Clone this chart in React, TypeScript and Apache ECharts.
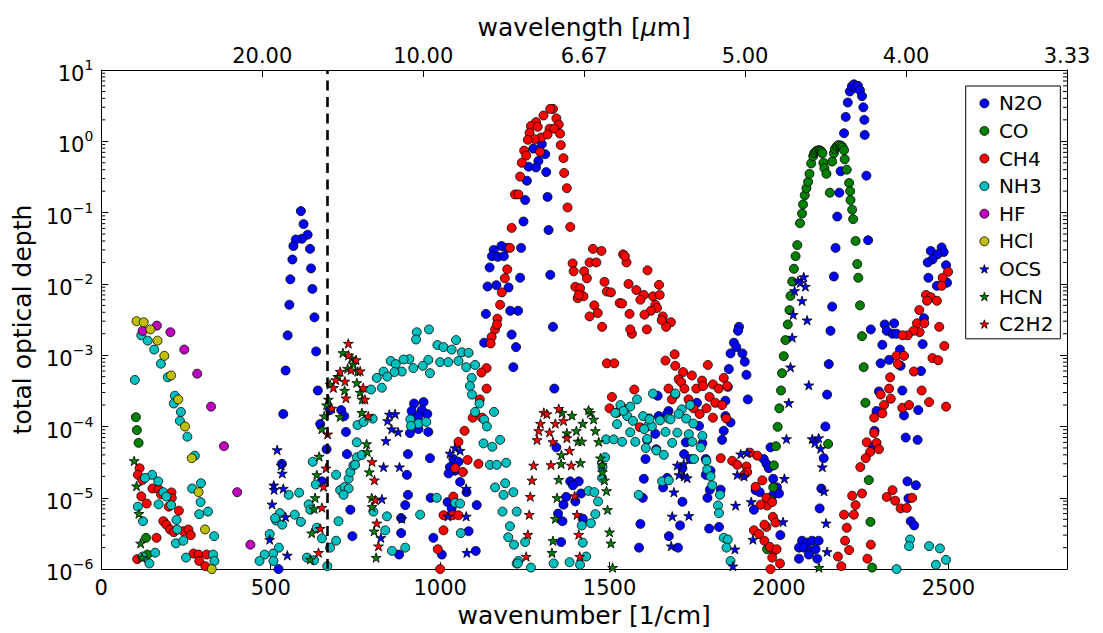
import React, { useEffect, useRef } from "react";
import * as echarts from "echarts";

type Pt = [number, number];

// [wavenumber (1/cm), total optical depth]
const N2O: Pt[] = [
  [555, 5.1e-3], [550, 1.9e-3], [544, 6.1e-4], [537, 1.5e-4], [533, 3.0e-5], [523, 1.0e-6],
  [589, 0.105], [597, 6.9e-2], [609, 4.9e-2], [592, 4.3e-2], [574, 4.2e-2], [567, 3.4e-2], [616, 3.1e-2],
  [564, 2.2e-2], [619, 1.65e-2], [558, 1.16e-2], [623, 8.5e-3], [629, 3.4e-3], [634, 1.13e-3], [639, 3.2e-4],
  [646, 1.08e-4], [651, 1.7e-5], [665, 4.8e-5], [675, 1.7e-4], [708, 1.7e-4], [717, 1.4e-4], [722, 8.4e-5],
  [725, 4.1e-5], [735, 6.8e-6], [741, 2.9e-6],
  [923, 2.1e-4], [951, 2.2e-4], [916, 1.65e-4], [946, 1.7e-4], [962, 1.5e-4], [936, 1.4e-4], [914, 1.26e-4],
  [936, 9.2e-5], [911, 8.1e-5], [965, 8.4e-5], [905, 4.1e-5], [970, 3.6e-5], [902, 2.1e-5], [905, 1.1e-5],
  [897, 7.9e-6], [885, 5.2e-6], [885, 3.2e-6], [879, 1.6e-6], [972, 1.0e-5], [980, 2.75e-6], [1005, 1.6e-6],
  [1108, 7.9e-6], [1084, 3.4e-6], [1105, 1.8e-6], [1039, 3.5e-5], [1054, 3.2e-5], [1029, 2.7e-5], [1044, 2.4e-5],
  [1025, 2.2e-5], [1059, 1.67e-5], [1078, 1.2e-5], [1022, 8.7e-6], [1034, 7.1e-6], [1211, 1.95e-3], [1224, 1.3e-3],
  [1216, 6.8e-4], [1130, 1.5e-3],
  [1300, 0.91], [1275, 0.79], [1310, 0.66], [1290, 0.53], [1261, 0.44], [1283, 0.43], [1313, 0.37], [1256, 0.28],
  [1317, 0.166], [1251, 0.15], [1246, 7.5e-2], [1320, 5.7e-2], [1239, 3.2e-2], [1158, 3.0e-2], [1181, 3.4e-2],
  [1197, 3.2e-2], [1153, 2.45e-2], [1170, 2.4e-2], [1188, 2.45e-2], [1146, 1.7e-2], [1236, 1.22e-2], [1325, 1.34e-2],
  [1140, 9.2e-3], [1166, 9.6e-3], [1202, 8.9e-3], [1207, 4.2e-3], [1230, 4.2e-3], [1135, 3.8e-3], [1333, 2.5e-3],
  [1337, 3.4e-4], [1343, 5.1e-5], [1384, 1.7e-5], [1409, 1.7e-5], [1392, 1.5e-5], [1372, 1.03e-5], [1416, 1.15e-5],
  [1399, 8.9e-6], [1364, 8.0e-6], [1348, 6.0e-6], [1361, 4.7e-6], [1421, 5.1e-6], [1357, 2.4e-6], [1601, 1.85e-5],
  [1598, 1.0e-5], [1591, 4.3e-6], [1587, 2.0e-6], [1606, 3.5e-5], [1642, 2.7e-4], [1645, 1.4e-4], [1611, 6.5e-5],
  [1635, 7.9e-5], [1638, 4.8e-5], [1674, 1.65e-4], [1758, 2.15e-4], [1842, 2.3e-4],
  [1882, 2.5e-3], [1879, 2.2e-3], [1867, 1.5e-3], [1874, 1.3e-3], [1857, 1.06e-3], [1892, 1.06e-3], [1899, 8.1e-4],
  [1852, 6.4e-4], [1904, 5.3e-4], [1849, 3.6e-4], [1908, 2.4e-4], [1842, 1.4e-4], [1837, 8.7e-5], [1857, 1.14e-4],
  [1832, 6.5e-5], [1774, 5.8e-5], [1764, 1.02e-4], [1725, 6.0e-5], [1720, 4.1e-5], [1739, 3.5e-5], [1784, 3.5e-5],
  [1715, 2.6e-5], [1784, 2.1e-5], [1798, 2.4e-5], [1796, 1.3e-5], [1828, 1.3e-5], [1789, 1.0e-5], [1823, 3.9e-6],
  [1794, 3.7e-6], [1715, 8.8e-6], [1708, 4.1e-6], [1675, 2.9e-6], [1702, 2.0e-6], [1670, 1.9e-5], [1658, 1.4e-5],
  [1670, 1.5e-4], [1617, 1.3e-4], [1955, 3.5e-5], [1963, 3.0e-5], [1970, 2.6e-5], [1983, 1.85e-5], [1994, 1.4e-5],
  [1931, 1.28e-5], [1943, 1.2e-5], [1926, 6.8e-6], [2004, 3.0e-6],
  [2192, 1.3], [2253, 1.23], [2182, 0.38], [2258, 0.33], [2178, 0.19], [2172, 8.8e-2], [2263, 4.1e-2], [2167, 3.2e-2],
  [2162, 1.27e-2], [2157, 4.8e-3], [2152, 2.2e-3], [2147, 7.5e-4], [2142, 2.8e-4], [2137, 1.0e-4], [2132, 3.6e-5],
  [2125, 1.35e-5], [2120, 7.1e-6], [2068, 2.5e-6], [2083, 2.35e-6], [2098, 2.5e-6], [2117, 2.5e-6], [2059, 2.0e-6],
  [2073, 2.0e-6], [2093, 1.8e-6], [2108, 1.9e-6], [2059, 1.4e-6], [2113, 1.4e-6], [2088, 1.6e-6], [1975, 5.1e-5],
  [1983, 1.1e-5], [2000, 1.15e-5],
  [2197, 2.2], [2203, 3.5], [2209, 5.0], [2215, 5.9], [2221, 6.3], [2227, 5.6], [2233, 6.0], [2239, 5.2],
  [2245, 4.3], [2249, 3.0], [2252, 2.0],
  [2448, 2.9e-2], [2480, 3.25e-2], [2486, 2.8e-2], [2468, 2.6e-2], [2453, 2.2e-2], [2439, 2.0e-2], [2493, 1.83e-2],
  [2441, 1.22e-2], [2496, 1.04e-2], [2466, 9.4e-3],
  [2312, 2.7e-3], [2340, 2.8e-3], [2318, 2.2e-3], [2335, 2.0e-3], [2347, 2.0e-3], [2271, 2.3e-3], [2428, 3.3e-3],
  [2305, 1.4e-3], [2424, 1.43e-3], [2357, 1.2e-3], [2300, 7.7e-4], [2325, 8.6e-4], [2359, 7.1e-4], [2419, 6.0e-4],
  [2295, 3.1e-4], [2364, 3.2e-4], [2288, 1.65e-4], [2369, 1.43e-4], [2411, 1.7e-4], [2282, 8.7e-5], [2279, 5.2e-5],
  [2374, 7.0e-5], [2409, 6.5e-5], [2379, 1.7e-5], [2404, 1.5e-5], [2389, 4.7e-6], [2399, 4.1e-6], [2382, 9.8e-6],
];

const CO: Pt[] = [
  [102, 1.35e-4], [105, 8.9e-5], [110, 5.9e-5], [132, 2.75e-6], [136, 1.6e-6],
  [2062, 7.1e-2], [2068, 9.7e-2], [2071, 0.13], [2076, 0.175], [2081, 0.22], [2086, 0.27], [2090, 0.35],
  [2095, 0.49], [2101, 0.62], [2104, 0.68], [2108, 0.71], [2112, 0.74], [2118, 0.75], [2122, 0.74], [2125, 0.72],
  [2128, 0.68], [2131, 0.5], [2134, 0.42], [2140, 0.35], [2150, 0.19], [2157, 0.52], [2162, 0.68], [2165, 0.78],
  [2170, 0.84], [2174, 0.88], [2180, 0.88], [2184, 0.86], [2188, 0.82], [2192, 0.75], [2194, 0.56], [2200, 0.4],
  [2207, 0.26], [2210, 0.2], [2211, 0.15], [2216, 0.11], [2219, 8.1e-2], [2226, 4.0e-2], [2231, 1.9e-2],
  [2234, 1.22e-2], [2239, 5.0e-3], [2245, 1.85e-3], [2250, 6.8e-4], [2255, 2.15e-4], [2265, 1.77e-5],
  [2270, 4.6e-6], [2275, 1.05e-6], [2145, 5.7e-5],
  [2054, 3.5e-2], [2049, 2.45e-2], [2044, 1.63e-2], [2039, 1.08e-2], [2034, 6.8e-3], [2031, 4.3e-3],
  [2026, 2.7e-3], [2019, 1.63e-3], [2014, 9.7e-4], [2009, 5.6e-4], [2006, 3.2e-4], [2001, 1.8e-4],
  [1996, 9.9e-5], [1991, 5.3e-5], [1985, 2.85e-5], [1983, 1.4e-5], [1975, 9.4e-6], [1965, 1.9e-6],
];

const CH4: Pt[] = [
  [113, 2.6e-5], [108, 2.1e-5], [121, 1.77e-5], [151, 1.35e-5], [169, 1.32e-5], [207, 1.19e-5], [176, 1.12e-5],
  [208, 9.9e-6], [199, 7.5e-6], [118, 1.05e-5], [134, 8.3e-6], [229, 6.6e-6], [183, 4.7e-6], [192, 4.2e-6],
  [203, 3.6e-6], [214, 3.3e-6], [242, 3.4e-6], [257, 3.6e-6], [264, 3.0e-6], [163, 2.75e-6], [272, 1.65e-6],
  [287, 1.6e-6], [311, 1.6e-6], [289, 1.3e-6], [106, 1.38e-6], [307, 1.1e-6],
  [1169, 3.25e-3], [1162, 2.3e-3], [1152, 1.8e-3], [1149, 1.46e-3], [1137, 6.6e-4], [1122, 5.7e-4],
  [1137, 3.4e-4], [1117, 2.4e-4], [1096, 1.33e-4], [1124, 1.33e-4], [1072, 8.7e-5], [1054, 6.1e-5],
  [1081, 3.4e-5], [1113, 3.0e-5], [1044, 2.6e-5], [1067, 2.3e-5], [1039, 1.04e-5], [1010, 5.7e-6],
  [1037, 5.7e-6], [1054, 5.7e-6], [1010, 3.5e-6], [993, 1.9e-6], [1000, 1.0e-6],
  [1333, 2.85], [1325, 2.85], [1305, 2.3], [1343, 2.1], [1283, 1.86], [1350, 1.72], [1268, 1.64], [1288, 1.6],
  [1323, 1.5], [1337, 1.5], [1354, 1.28], [1264, 1.32], [1298, 1.13], [1317, 1.25], [1279, 1.07], [1259, 1.05],
  [1356, 0.885], [1248, 0.74], [1295, 0.71], [1254, 0.63], [1364, 0.58], [1241, 0.5], [1366, 0.36], [1236, 0.32],
  [1374, 0.22], [1221, 0.18], [1231, 0.18], [1376, 0.118], [1211, 6.1e-2], [1384, 6.3e-2], [1206, 3.2e-2],
  [1198, 1.6e-2], [1191, 1.2e-2], [1182, 7.6e-3], [1177, 5.1e-3], [1168, 2.7e-3],
  [1391, 1.94e-2], [1394, 1.5e-2], [1425, 1.5e-2], [1433, 1.2e-2], [1441, 2.0e-2], [1461, 2.0e-2], [1451, 3.1e-2],
  [1476, 2.9e-2], [1399, 9.1e-3], [1413, 8.7e-3], [1423, 6.7e-3], [1406, 6.3e-3], [1485, 1.07e-2], [1492, 7.8e-3],
  [1504, 7.6e-3], [1530, 5.4e-3], [1455, 5.0e-3], [1465, 3.9e-3], [1441, 3.5e-3], [1478, 2.5e-3],
  [1540, 2.6e-2], [1550, 2.0e-2], [1545, 2.45e-2], [1612, 1.55e-2], [1646, 9.7e-3], [1556, 1.0e-2], [1579, 8.2e-3],
  [1601, 7.0e-3], [1591, 6.0e-3], [1628, 6.7e-3], [1648, 7.0e-3], [1635, 5.1e-3], [1640, 4.6e-3], [1622, 4.2e-3],
  [1603, 3.7e-3], [1657, 3.5e-3], [1681, 2.9e-3], [1667, 2.5e-3], [1654, 3.1e-3], [1537, 5.3e-3], [1559, 3.8e-3],
  [1409, 7.0e-3], [1610, 2.3e-3], [1566, 2.0e-3], [1561, 2.3e-3],
  [1492, 7.7e-4], [1514, 7.7e-4], [1692, 1.03e-3], [1665, 8.4e-4], [1694, 7.1e-4], [1790, 7.3e-4], [1717, 5.8e-4],
  [1743, 5.2e-4], [1704, 4.6e-4], [1773, 4.4e-4], [1711, 4.2e-4], [1721, 3.4e-4], [1756, 3.4e-4], [1776, 3.7e-4],
  [1805, 3.9e-4], [1822, 3.4e-4], [1837, 4.8e-4], [1847, 3.7e-4], [1674, 3.4e-4], [1694, 2.8e-4], [1684, 2.4e-4],
  [1573, 3.3e-4], [1507, 2.6e-4], [1500, 1.8e-4], [1534, 1.9e-4], [1733, 2.4e-4], [1748, 1.8e-4], [1766, 1.5e-4],
  [1786, 1.8e-4], [1795, 2.6e-4], [1812, 2.15e-4], [1832, 2.0e-4], [1805, 1.33e-4], [1844, 1.3e-4], [1522, 1.56e-4],
  [1589, 9.8e-5],
  [1828, 3.6e-5], [1862, 3.3e-5], [1877, 2.9e-5], [1904, 2.75e-5], [1914, 4.3e-5], [1936, 3.9e-5], [1906, 2.3e-5],
  [1897, 2.1e-5], [1951, 1.76e-5], [1931, 1.43e-5], [1965, 7.8e-6], [1946, 8.0e-6], [1982, 5.4e-6], [1926, 3.5e-6],
  [1941, 3.1e-6], [1963, 3.9e-6], [1957, 2.5e-6], [1985, 1.8e-6], [1980, 1.45e-6], [2003, 1.2e-6],
  [1963, 1.0e-5], [1980, 8.7e-6], [1957, 4.2e-6], [1990, 4.5e-6], [1973, 2.05e-6], [1993, 1.9e-6], [1975, 1.0e-6],
  [2192, 5.8e-6], [2200, 3.8e-6], [2195, 2.5e-6], [2207, 1.85e-6], [2174, 1.5e-6], [2184, 1.1e-6], [2216, 1.07e-5],
  [2226, 7.9e-6], [2245, 1.15e-5], [2221, 5.8e-6], [2240, 2.7e-5],
  [2488, 1.35e-3], [2453, 9.1e-4], [2470, 8.5e-4], [2347, 9.8e-4], [2369, 9.8e-4], [2351, 7.5e-4], [2328, 4.9e-4],
  [2398, 5.9e-4], [2325, 3.4e-4], [2300, 2.8e-4], [2330, 2.45e-4], [2310, 2.0e-4], [2305, 1.53e-4], [2281, 1.33e-4],
  [2364, 1.83e-4], [2384, 2.0e-4], [2421, 3.2e-4], [2443, 2.2e-4], [2493, 1.9e-4], [2281, 8.1e-5], [2259, 6.0e-5],
  [2288, 5.9e-5], [2269, 4.4e-5], [2295, 4.8e-5], [2256, 3.6e-5], [2335, 1.28e-5], [2318, 1.03e-5], [2343, 9.1e-6],
  [2359, 7.1e-6], [2377, 7.2e-6], [2393, 1.0e-5], [2271, 2.2e-6], [2261, 1.4e-6],
  [2499, 1.48e-2], [2483, 1.22e-2], [2480, 9.4e-3], [2434, 7.0e-3], [2448, 6.5e-3], [2437, 5.8e-3], [2466, 5.8e-3],
  [2414, 4.3e-3], [2407, 2.8e-3], [2429, 2.8e-3], [2415, 2.1e-3], [2397, 2.2e-3], [2473, 2.5e-3], [2380, 1.9e-3],
  [2365, 1.9e-3],
];

const NH3: Pt[] = [
  [99, 4.5e-4], [118, 1.9e-3], [137, 1.6e-3], [156, 1.2e-3], [176, 7.6e-4], [196, 4.9e-4], [217, 2.7e-4],
  [214, 2.1e-4], [235, 1.6e-4], [232, 1.2e-4], [254, 7.2e-5], [276, 3.9e-5], [268, 1.35e-5], [294, 1.6e-5],
  [293, 8.7e-6], [289, 5.9e-6], [315, 6.4e-6], [222, 4.9e-6], [224, 3.6e-6], [220, 2.3e-6], [242, 2.5e-6],
  [333, 2.9e-6], [250, 1.45e-6], [330, 1.6e-6], [334, 1.3e-6], [159, 1.7e-6], [122, 1.5e-6], [142, 1.2e-6],
  [108, 7.5e-6], [123, 4.7e-6], [150, 2.1e-5], [129, 1.9e-5], [168, 1.7e-5], [183, 1.2e-5], [192, 1.04e-5],
  [206, 7.9e-6], [169, 8.1e-6],
  [553, 1.1e-5], [584, 1.18e-5], [527, 6.1e-6], [516, 4.8e-6], [534, 4.2e-6], [571, 5.8e-6], [497, 3.1e-6],
  [524, 2.0e-6], [507, 1.65e-6], [482, 1.6e-6], [467, 1.3e-6], [589, 4.6e-6], [513, 5.2e-6], [508, 1.3e-6],
  [624, 3.2e-5], [633, 1.54e-5], [612, 8.1e-6], [617, 6.8e-6], [636, 3.8e-6], [651, 2.7e-6], [607, 1.45e-6],
  [628, 1.33e-6], [675, 2.0e-6], [693, 2.5e-6], [700, 4.7e-6], [693, 2.1e-5], [705, 1.28e-5], [718, 1.42e-5],
  [730, 1.86e-5], [735, 2.3e-5], [744, 2.85e-5], [754, 3.7e-5], [754, 6.0e-5], [756, 1.05e-4], [667, 1.1e-6],
  [931, 2.1e-3], [967, 2.3e-3], [929, 1.66e-3], [992, 1.39e-3], [1010, 1.3e-3], [1034, 1.2e-3], [1047, 1.63e-3],
  [1064, 1.1e-3], [1084, 1.08e-3], [909, 8.8e-4], [892, 8.7e-4], [965, 8.6e-4], [1000, 8.0e-4], [1024, 8.0e-4],
  [1054, 8.3e-4], [854, 8.3e-4], [869, 7.5e-4], [949, 7.1e-4], [921, 6.6e-4], [970, 5.6e-4], [887, 5.9e-4],
  [865, 5.8e-4], [833, 5.9e-4], [813, 4.8e-4], [844, 5.0e-4], [828, 3.5e-4], [796, 3.3e-4], [1103, 7.3e-4],
  [1077, 6.8e-4], [1093, 4.8e-4], [1088, 3.7e-4], [1094, 2.8e-4], [1116, 2.1e-4], [1103, 1.6e-4], [1130, 1.25e-4],
  [1138, 1.0e-4], [1159, 1.6e-4], [1128, 5.8e-5], [1154, 5.2e-5], [1177, 6.5e-5], [1147, 2.9e-5], [1167, 2.9e-5],
  [1195, 3.1e-5], [1162, 1.4e-5], [1192, 1.6e-5], [1216, 1.2e-5], [1187, 1.1e-5], [1226, 6.4e-6], [1184, 6.4e-6],
  [1206, 4.0e-6], [1201, 2.8e-6], [1218, 2.2e-6], [1226, 1.2e-6], [912, 1.26e-4], [936, 1.1e-4], [959, 1.16e-4],
  [914, 1.02e-4], [774, 1.16e-4], [801, 1.29e-4], [769, 4.0e-5], [749, 2.9e-5], [730, 1.35e-5], [715, 1.1e-5],
  [941, 5.8e-6], [843, 5.5e-6], [838, 3.5e-6], [897, 2.0e-6], [858, 1.8e-6], [990, 1.0e-5], [1044, 8.5e-6],
  [1059, 8.3e-6], [1061, 3.2e-6], [803, 6.4e-6], [1231, 1.3e-6],
  [1251, 2.4e-6], [1229, 1.2e-6], [1268, 1.05e-6], [1335, 1.2e-6], [1382, 1.25e-6], [1413, 1.15e-6], [1431, 1.5e-6],
  [1421, 2.35e-6], [1445, 4.4e-6], [1418, 4.1e-6], [1458, 5.9e-6], [1438, 1.25e-5], [1455, 1.2e-5], [1466, 8.9e-6],
  [1478, 1.9e-5], [1487, 3.7e-5], [1490, 6.6e-5], [1512, 6.6e-5], [1537, 6.1e-5], [1522, 1.08e-4], [1532, 2.0e-4],
  [1552, 1.4e-4], [1561, 8.3e-5], [1576, 6.1e-5], [1581, 2.4e-4], [1599, 1.4e-4], [1611, 1.0e-4], [1628, 2.9e-4],
  [1625, 1.0e-4], [1638, 4.6e-5], [1586, 1.1e-5], [1479, 2.7e-5],
  [1561, 1.9e-4], [1694, 2.9e-4], [1541, 1.65e-4], [1517, 1.55e-4], [1569, 1.2e-4], [1618, 1.26e-4], [1649, 1.22e-4],
  [1674, 1.3e-4], [1713, 1.74e-4], [1726, 1.29e-4], [1738, 2.0e-4], [1704, 1.5e-4],
  [1680, 1.26e-4], [1747, 1.1e-4], [1665, 8.4e-5], [1700, 8.2e-5], [1734, 7.8e-5], [1774, 7.4e-5], [1685, 5.9e-5],
  [1744, 6.1e-5], [1769, 5.1e-5], [1660, 4.0e-5], [1749, 3.5e-5], [1786, 3.3e-5], [1788, 2.5e-5], [1798, 2.0e-5],
  [1803, 1.5e-5], [1826, 1.1e-5], [1820, 7.8e-6], [1823, 6.1e-6], [1837, 2.75e-6], [1849, 2.6e-6], [1845, 2.0e-6],
  [1857, 1.3e-6], [1655, 1.7e-5], [1675, 1.76e-5], [1602, 9.2e-5], [1611, 6.7e-5], [1607, 5.0e-5],
  [2387, 2.6e-6], [2384, 2.1e-6], [2443, 2.1e-6], [2475, 1.95e-6], [2493, 1.35e-6], [2463, 1.15e-6], [2347, 1.0e-6],
];

const HF: Pt[] = [
  [122, 2.2e-3], [164, 2.6e-3], [204, 2.1e-3], [245, 1.2e-3], [283, 5.5e-4], [324, 1.9e-4], [362, 5.3e-5],
  [401, 1.2e-5], [440, 2.2e-6],
];

const HCl: Pt[] = [
  [104, 3.0e-3], [125, 2.9e-3], [145, 2.3e-3], [166, 1.6e-3], [186, 9.8e-4], [206, 5.2e-4], [227, 2.4e-4],
  [247, 1.0e-4], [267, 3.6e-5], [287, 1.2e-5], [306, 3.6e-6], [326, 1.0e-6],
];

const OCS: Pt[] = [
  [519, 4.7e-5], [531, 2.85e-5], [534, 2.2e-5], [509, 1.5e-5], [510, 1.3e-5], [537, 1.35e-5], [504, 8.1e-6],
  [544, 5.4e-6], [497, 2.6e-6], [549, 1.56e-6],
  [850, 1.48e-4], [867, 1.5e-4], [845, 1.2e-4], [857, 9.2e-5], [876, 8.4e-5], [840, 6.3e-5], [833, 2.7e-5],
  [880, 2.7e-5], [828, 9.6e-6], [887, 5.1e-6], [825, 2.75e-6], [1029, 4.2e-5], [1044, 5.0e-5], [1059, 4.6e-5],
  [1077, 1.35e-5], [1077, 5.5e-6], [1079, 1.7e-6], [1023, 5.5e-6],
  [1700, 2.85e-5], [1719, 3.0e-5], [1705, 2.1e-5], [1720, 2.0e-5], [1729, 1.9e-5], [1690, 1.2e-5], [1685, 5.5e-6],
  [1734, 5.6e-6], [1682, 2.1e-6], [1872, 7.8e-6], [1918, 8.8e-6], [1923, 2.6e-6], [1870, 1.9e-6], [1864, 1.1e-6],
  [1887, 4.1e-5], [1906, 4.3e-5], [1877, 2.1e-5], [1897, 2.0e-5],
  [2073, 1.25e-2], [2056, 1.1e-2], [2063, 1.04e-2], [2078, 9.2e-3], [2046, 8.0e-3], [2068, 5.8e-3], [2042, 3.7e-3],
  [2083, 3.1e-3], [2039, 1.77e-3], [2034, 6.8e-4], [2088, 3.8e-4], [2029, 2.15e-4], [2022, 6.7e-5], [2098, 6.7e-5],
  [2117, 6.9e-5], [2106, 5.9e-5], [2123, 4.9e-5], [2128, 2.7e-5], [2133, 1.24e-5], [2016, 1.86e-5], [2012, 4.6e-6],
  [2139, 4.4e-6], [2142, 1.75e-6],
];

const HCN: Pt[] = [
  [97, 3.3e-5], [104, 1.46e-5], [111, 6.0e-6], [116, 2.3e-6], [120, 1.45e-6],
  [713, 1.08e-3], [739, 9.1e-4], [757, 5.9e-4], [675, 3.9e-4], [718, 3.2e-4], [670, 2.4e-4], [665, 2.0e-4],
  [658, 1.4e-4], [705, 1.37e-4], [651, 9.2e-5], [643, 3.8e-5], [636, 2.1e-5], [631, 1.0e-5], [628, 7.0e-6],
  [621, 3.2e-6], [617, 1.37e-6], [698, 5.0e-4], [727, 6.5e-4], [744, 7.5e-4],
  [783, 5.7e-5], [785, 4.4e-5], [791, 2.3e-5], [798, 1.0e-5], [799, 7.5e-6], [805, 3.4e-6], [811, 1.45e-6],
  [769, 1.56e-4], [754, 4.1e-4], [764, 3.0e-4], [770, 2.4e-4],
  [1360, 1.56e-4], [1389, 1.43e-4], [1443, 1.56e-4], [1421, 1.1e-4], [1453, 1.26e-4], [1402, 8.7e-5], [1458, 8.7e-5],
  [1374, 8.1e-5], [1407, 6.2e-5], [1418, 6.2e-5], [1468, 6.1e-5], [1358, 4.0e-5], [1357, 3.0e-5], [1414, 3.1e-5],
  [1473, 3.6e-5], [1478, 2.9e-5], [1350, 1.8e-5], [1485, 1.76e-5], [1491, 1.25e-5], [1345, 1.0e-5], [1494, 6.8e-6],
  [1340, 5.1e-6], [1500, 3.3e-6], [1333, 2.5e-6], [1504, 2.3e-6], [1330, 1.7e-6], [1509, 1.05e-6], [1479, 2.3e-5],
  [1438, 1.7e-4], [2118, 1.05e-6],
];

const C2H2: Pt[] = [
  [729, 1.46e-3], [730, 1.0e-3], [752, 8.6e-4], [705, 5.9e-4], [692, 4.5e-4], [719, 4.3e-4], [737, 6.2e-4],
  [685, 3.5e-4], [722, 2.5e-4], [680, 1.8e-4], [668, 7.8e-5], [663, 2.6e-5], [656, 1.43e-5], [651, 7.3e-6],
  [646, 3.7e-6], [641, 1.7e-6], [799, 3.2e-5], [806, 1.77e-5], [809, 9.3e-6], [813, 4.4e-6], [818, 2.1e-6],
  [788, 1.4e-4], [764, 6.0e-4], [773, 3.5e-4], [778, 2.4e-4],
  [1306, 1.57e-4], [1350, 1.78e-4], [1296, 1.1e-4], [1291, 8.7e-5], [1323, 8.3e-5], [1286, 6.5e-5], [1333, 6.1e-5],
  [1340, 1.1e-4], [1364, 1.2e-4], [1374, 6.9e-5], [1382, 4.6e-5], [1276, 2.85e-5], [1327, 2.9e-5], [1387, 2.85e-5],
  [1271, 1.76e-5], [1266, 1.04e-5], [1397, 1.06e-5], [1263, 5.8e-6], [1404, 5.8e-6], [1259, 3.05e-6], [1409, 3.05e-6],
  [1254, 1.5e-6], [1412, 1.5e-6], [1315, 1.5e-4],
];

const SPECIES_NAMES = ["N2O", "CO", "CH4", "NH3", "HF", "HCl", "OCS", "HCN", "C2H2"];
const SPECIES_DATA: Record<string, Pt[]> = { N2O, CO, CH4, NH3, HF, HCl, OCS, HCN, C2H2 };

// CO2 15 micron band marker
const CO2_BAND = 667;

const WAVENUMBER_MIN = 0;
const WAVENUMBER_MAX = 2850;
const WAVENUMBER_STEP = 500;
const TOP_AXIS_MAX = 3000;
const DEPTH_MIN = 1e-6;
const DEPTH_MAX = 10;

// ---- styling ----
const FONT = "DejaVu Sans";
const STAR =
  "path://M0,-10L2.245,-3.09L9.511,-3.09L3.633,1.18L5.878,8.09L0,3.82L-5.878,8.09L-3.633,1.18L-9.511,-3.09L-2.245,-3.09Z";
const STYLE: Record<string, { color: string; symbol: string }> = {
  N2O: { color: "#0000ff", symbol: "circle" },
  CO: { color: "#008000", symbol: "circle" },
  CH4: { color: "#ff0000", symbol: "circle" },
  NH3: { color: "#00bfbf", symbol: "circle" },
  HF: { color: "#bf00bf", symbol: "circle" },
  HCl: { color: "#bfbf00", symbol: "circle" },
  OCS: { color: "#0000ff", symbol: STAR },
  HCN: { color: "#008000", symbol: STAR },
  C2H2: { color: "#ff0000", symbol: STAR },
};

function minorLogTicks(minExp: number, maxExp: number): number[] {
  const out: number[] = [];
  for (let e = minExp; e < maxExp; e++) {
    for (let m = 2; m <= 9; m++) out.push(m * Math.pow(10, e));
  }
  return out;
}

export default function App() {
  const ref = useRef<HTMLDivElement>(null);

  useEffect(() => {
    if (!ref.current) return;
    const chart = echarts.init(ref.current, undefined, { renderer: "svg" });

    const scatterSeries = SPECIES_NAMES.map((name) => {
      const st = STYLE[name];
      const isStar = st.symbol !== "circle";
      return {
        type: "scatter",
        name,
        data: SPECIES_DATA[name],
        xAxisIndex: 0,
        yAxisIndex: 0,
        symbol: st.symbol,
        symbolSize: isStar ? 10 : 9,
        symbolKeepAspect: true,
        silent: true,
        itemStyle: { color: st.color, borderColor: "#000", borderWidth: 0.8, opacity: 1 },
        emphasis: { disabled: true },
      } as any;
    });

    const minorSeries = {
      type: "custom",
      silent: true,
      xAxisIndex: 0,
      yAxisIndex: 0,
      z: 10,
      clip: false,
      data: minorLogTicks(-6, 1).map((v) => [WAVENUMBER_MIN, v]),
      encode: { x: 0, y: 1 },
      renderItem: (_params: any, api: any) => {
        const v = api.value(1);
        const l = api.coord([WAVENUMBER_MIN, v]);
        const r = api.coord([WAVENUMBER_MAX, v]);
        return {
          type: "group",
          children: [
            { type: "line", shape: { x1: l[0], y1: l[1], x2: l[0] + 4, y2: l[1] }, style: { stroke: "#000", lineWidth: 1 } },
            { type: "line", shape: { x1: r[0] - 4, y1: r[1], x2: r[0], y2: r[1] }, style: { stroke: "#000", lineWidth: 1 } },
          ],
        };
      },
    };

    const markSeries = {
      type: "scatter",
      name: "co2-band",
      data: [] as Pt[],
      xAxisIndex: 0,
      yAxisIndex: 0,
      silent: true,
      z: 5,
      markLine: {
        silent: true,
        symbol: ["none", "none"],
        label: { show: false },
        lineStyle: { color: "#000", width: 2.6, type: [10, 6.5] },
        data: [{ xAxis: CO2_BAND }],
      },
    };

    const axisLine = { show: true, onZero: false, lineStyle: { color: "#000", width: 1 } };
    const tick = { show: true, inside: true, length: 7, lineStyle: { color: "#000", width: 1 } };
    const labelText = { color: "#000", fontFamily: FONT, fontSize: 21 };
    const nameText = { color: "#000", fontFamily: FONT, fontSize: 25 };

    chart.setOption({
      animation: false,
      backgroundColor: "#fff",
      grid: { left: 101.3, right: 36, top: 70, bottom: 58, containLabel: false },
      legend: {
        show: true,
        orient: "vertical",
        left: 965.7,
        top: 86,
        itemWidth: 9,
        itemHeight: 9,
        itemGap: 7.6,
        padding: [7.3, 7, 4.7, 13.8],
        borderColor: "#000",
        borderWidth: 1,
        borderRadius: 0,
        backgroundColor: "#fff",
        textStyle: { color: "#000", fontFamily: FONT, fontSize: 20, lineHeight: 20, padding: [0, 0, 0, 5] },
        data: SPECIES_NAMES.map((name) => ({
          name,
          icon: STYLE[name].symbol,
          itemStyle: { color: STYLE[name].color, borderColor: "#000", borderWidth: 0.8 },
        })),
        selectedMode: false,
      },
      xAxis: [
        {
          type: "value",
          position: "bottom",
          min: WAVENUMBER_MIN,
          max: WAVENUMBER_MAX,
          interval: WAVENUMBER_STEP,
          axisLine,
          axisTick: tick,
          splitLine: { show: false },
          axisLabel: { ...labelText, margin: 8, showMaxLabel: false, formatter: (v: number) => String(v) },
          name: "wavenumber [1/cm]",
          nameLocation: "middle",
          nameGap: 30,
          nameTextStyle: nameText,
        },
        {
          type: "value",
          position: "top",
          min: WAVENUMBER_MIN,
          max: TOP_AXIS_MAX,
          interval: WAVENUMBER_STEP,
          axisLine,
          axisTick: tick,
          splitLine: { show: false },
          axisLabel: {
            ...labelText,
            margin: 4,
            formatter: (v: number) => (v === 0 ? "" : (1e4 / v).toFixed(2)),
          },
          name: "{n|wavelength [}{i|μ}{n|m]}",
          nameLocation: "middle",
          nameGap: 30,
          nameMoveOverlap: false,
          nameTextStyle: {
            ...nameText,
            rich: {
              n: { fontFamily: FONT, fontSize: 25, color: "#000" },
              i: { fontFamily: FONT, fontSize: 25, color: "#000", fontStyle: "italic" },
            },
          },
        },
      ],
      yAxis: [
        {
          type: "log",
          logBase: 10,
          min: DEPTH_MIN,
          max: DEPTH_MAX,
          splitNumber: 7,
          position: "left",
          axisLine,
          axisTick: tick,
          splitLine: { show: false },
          axisLabel: {
            margin: 8,
            formatter: (v: number) => {
              const e = Math.round(Math.log10(v));
              return `{b|10}{s|${e < 0 ? "\u2212" + Math.abs(e) : e}}`;
            },
            rich: {
              b: { fontFamily: FONT, fontSize: 21, color: "#000", padding: [8, 0, 0, 0] },
              s: { fontFamily: FONT, fontSize: 14, color: "#000", padding: [0, 0, 10, 0] },
            },
          },
          name: "total optical depth",
          nameLocation: "middle",
          nameGap: 58,
          nameRotate: 90,
          nameTextStyle: nameText,
        },
        {
          type: "log",
          logBase: 10,
          min: DEPTH_MIN,
          max: DEPTH_MAX,
          splitNumber: 7,
          position: "right",
          axisLine,
          axisTick: tick,
          splitLine: { show: false },
          axisLabel: { show: false },
        },
      ],
      series: [...scatterSeries, markSeries, minorSeries],
    });

    return () => chart.dispose();
  }, []);

  return (
    <div
      ref={ref}
      style={{ position: "fixed", left: 0, top: 0, width: 1103, height: 633, background: "#fff" }}
    />
  );
}
